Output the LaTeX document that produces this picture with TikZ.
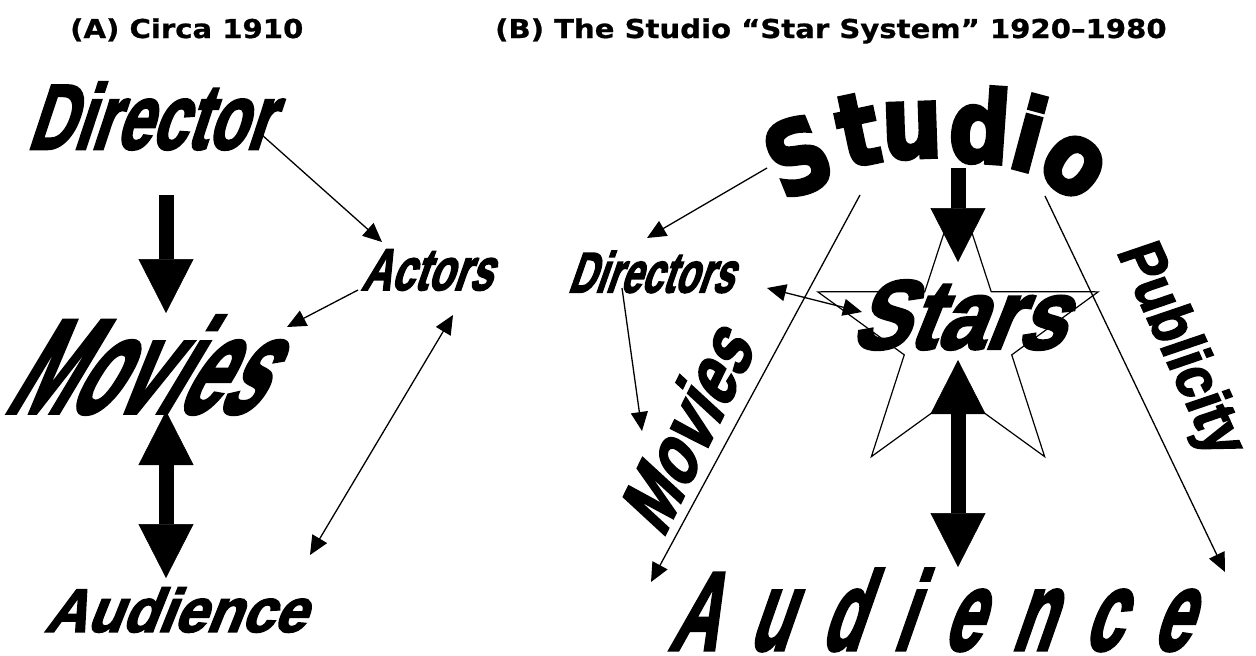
\documentclass[tikz,border=0pt]{standalone}
\usepackage{fontspec}
\usetikzlibrary{arrows.meta,calc}
\newfontfamily\wafont{Liberation Sans}[BoldFeatures={FakeBold=3}]
\newfontfamily\blkfont{DejaVu Sans}[BoldFeatures={FakeBold=4}]
\newfontfamily\ttlfont{DejaVu Sans}[BoldFeatures={FakeBold=0.8}]
\begin{document}
\begin{tikzpicture}[x=1pt,y=1pt,
  wa/.style={inner sep=0pt, transform shape, font=\wafont\bfseries\fontsize{#1}{#1}\selectfont},
  blk/.style={inner sep=0pt, transform shape, font=\blkfont\bfseries\fontsize{#1}{#1}\selectfont},
  ttl/.style={inner sep=0pt, anchor=base west, transform shape, font=\ttlfont\bfseries\fontsize{26}{26}\selectfont},
  thinarr/.style={line width=1.3pt, -{Triangle[length=19pt,width=17pt]}},
  thinboth/.style={line width=1.3pt, {Triangle[length=19pt,width=17pt]}-{Triangle[length=19pt,width=17pt]}},
  thickarr/.style={line width=15pt, -{Triangle[length=54pt,width=55pt,line width=0.5pt]}},
  thickboth/.style={line width=15pt, {Triangle[length=54pt,width=55pt,line width=0.5pt]}-{Triangle[length=54pt,width=55pt,line width=0.5pt]}},
  staroutline/.style={line width=1.2pt, line join=miter}
]
\fill[white] (0,0) rectangle (1256,-656);
\useasboundingbox (0,0) rectangle (1256,-656);

% titles
\node[ttl, xscale=1.12] (ta) at (70,-38) {(A) Circa 1910};
\node[ttl, xscale=1.12] (tb) at (495,-38) {(B) The Studio “Star System” 1920–1980};

% star shape
\coordinate (sc) at (958,-337.4);
\draw[staroutline] ([shift={(90:147.4)}]sc) -- ([shift={(126:56.5)}]sc) -- ([shift={(162:147.4)}]sc)
  -- ([shift={(198:56.5)}]sc) -- ([shift={(234:147.4)}]sc) -- ([shift={(270:56.5)}]sc)
  -- ([shift={(306:147.4)}]sc) -- ([shift={(342:56.5)}]sc) -- ([shift={(18:147.4)}]sc)
  -- ([shift={(54:56.5)}]sc) -- cycle;

% panel A
\node[wa=92, xslant=0.33, xscale=0.69] (dir) at (159,-116) {Director};
\node[wa=59, xslant=0.35, xscale=0.70] (act) at (433,-270) {Actors};
\node[wa=134, xslant=0.6, xscale=0.56] (movL) at (158,-365) {Movies};
\node[wa=61, xslant=0.4, xscale=0.95] (audL) at (183,-610) {Audience};

% panel B
\coordinate (stu) at (930,-140);
\node[blk=100, rotate=22, xscale=0.85] (st1) at (798,-156) {S};
\node[blk=100, rotate=12, xscale=0.85] (st2) at (858,-130) {t};
\node[blk=100, rotate=2, xscale=0.85] (st3) at (912,-131) {u};
\node[blk=100, rotate=-4, xscale=0.85] (st4) at (980,-125) {d};
\node[blk=100, rotate=-15, xscale=0.85] (st5) at (1030,-133) {i};
\node[blk=100, rotate=-35, xscale=0.85] (st6) at (1073,-166) {o};
\node[wa=57, xslant=0.35, xscale=0.66] (dirs) at (657,-272) {Directors};
\node[wa=98, xslant=0.4, xscale=0.87] (stars) at (970,-315) {Stars};
\node[wa=78, rotate=64, xslant=0.3, xscale=0.8] (movR) at (688,-424) {Movies};
\node[wa=62, rotate=-65.5, xslant=0.1, xscale=0.88] (pub) at (1179,-350) {Publicity};
\node[wa=112, xslant=0.35, xscale=0.6] (audR) at (942,-610)
  {A\kern52pt u\kern52pt d\kern52pt i\kern52pt e\kern52pt n\kern52pt c\kern52pt e};

% connectors panel A
\draw[thinarr] ($(dir)+(103,-19)$) -- ($(act)+(-51,28)$);
\draw[thinarr] ($(act)+(-75,-20)$) -- ($(movL)+(129,38)$);
\draw[thinboth] ($(act)+(20,-45)$) -- ($(audL)+(127,55)$);
\draw[thickarr] ($(dir)+(7,-79)$) -- ($(movL)+(8,52)$);
\draw[thickboth] ($(movL)+(8,-46)$) -- ($(audL)+(-17,32)$);

% connectors panel B
\draw[thinarr] ($(st1)+(-31,-12)$) -- ($(dirs)+(-10,34)$);
\draw[thickarr] ($(stu)+(28,-28)$) -- ($(stars)+(-12,53)$);
\draw[thinarr] ($(dirs)+(-35,-16)$) -- ($(movR)+(-46,-7)$);
\draw[thinboth] ($(dirs)+(110,-16)$) -- ($(stars)+(-108,3)$);
\draw[thickboth] ($(stars)+(-12,-45)$) -- ($(audR)+(16,43)$);
\draw[thinarr] ($(stu)+(-70,-55)$) -- ($(audR)+(-291,28)$);
\draw[thinarr] ($(stu)+(115,-56)$) -- ($(audR)+(283,38)$);
\end{tikzpicture}
\end{document}
